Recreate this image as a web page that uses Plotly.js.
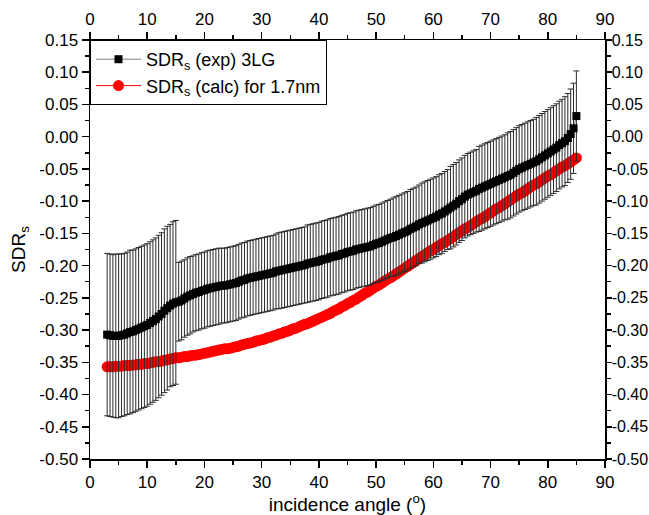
<!DOCTYPE html>
<html>
<head>
<meta charset="utf-8">
<script src="https://cdn.plot.ly/plotly-3.0.1.min.js"></script>
<style>html,body{margin:0;padding:0;background:#fff;}#chart{width:649px;height:515px;}</style>
</head>
<body>
<div id="chart"></div>
<script>
// incidence angle (deg)
const angle = [
  3.0,3.5,4.0,4.5,5.0,5.5,6.0,6.5,7.0,7.5,
  8.0,8.5,9.0,9.5,10.0,10.5,11.0,11.5,12.0,12.5,
  13.0,13.5,14.0,14.5,15.0,15.5,16.0,16.5,17.0,17.5,
  18.0,18.5,19.0,19.5,20.0,20.5,21.0,21.5,22.0,22.5,
  23.0,23.5,24.0,24.5,25.0,25.5,26.0,26.5,27.0,27.5,
  28.0,28.5,29.0,29.5,30.0,30.5,31.0,31.5,32.0,32.5,
  33.0,33.5,34.0,34.5,35.0,35.5,36.0,36.5,37.0,37.5,
  38.0,38.5,39.0,39.5,40.0,40.5,41.0,41.5,42.0,42.5,
  43.0,43.5,44.0,44.5,45.0,45.5,46.0,46.5,47.0,47.5,
  48.0,48.5,49.0,49.5,50.0,50.5,51.0,51.5,52.0,52.5,
  53.0,53.5,54.0,54.5,55.0,55.5,56.0,56.5,57.0,57.5,
  58.0,58.5,59.0,59.5,60.0,60.5,61.0,61.5,62.0,62.5,
  63.0,63.5,64.0,64.5,65.0,65.5,66.0,66.5,67.0,67.5,
  68.0,68.5,69.0,69.5,70.0,70.5,71.0,71.5,72.0,72.5,
  73.0,73.5,74.0,74.5,75.0,75.5,76.0,76.5,77.0,77.5,
  78.0,78.5,79.0,79.5,80.0,80.5,81.0,81.5,82.0,82.5,
  83.0,83.5,84.0,84.5,85.0
];
// SDR_s (exp) 3LG
const sdrExp = [
  -0.307,-0.308,-0.309,-0.309,-0.309,-0.308,-0.307,-0.305,-0.303,-0.302,
  -0.300,-0.298,-0.296,-0.294,-0.292,-0.289,-0.286,-0.283,-0.279,-0.275,
  -0.270,-0.266,-0.262,-0.259,-0.257,-0.256,-0.254,-0.251,-0.248,-0.246,
  -0.244,-0.242,-0.241,-0.239,-0.238,-0.236,-0.235,-0.234,-0.233,-0.232,
  -0.231,-0.231,-0.230,-0.229,-0.228,-0.227,-0.225,-0.223,-0.222,-0.220,
  -0.219,-0.218,-0.217,-0.216,-0.215,-0.214,-0.213,-0.212,-0.211,-0.209,
  -0.208,-0.207,-0.206,-0.205,-0.204,-0.203,-0.202,-0.201,-0.200,-0.199,
  -0.197,-0.196,-0.195,-0.194,-0.193,-0.191,-0.190,-0.189,-0.187,-0.186,
  -0.185,-0.184,-0.182,-0.181,-0.179,-0.178,-0.177,-0.175,-0.174,-0.173,
  -0.172,-0.171,-0.170,-0.168,-0.166,-0.165,-0.163,-0.161,-0.159,-0.157,
  -0.156,-0.154,-0.152,-0.150,-0.148,-0.146,-0.143,-0.141,-0.139,-0.136,
  -0.134,-0.132,-0.130,-0.128,-0.126,-0.124,-0.121,-0.119,-0.116,-0.113,
  -0.110,-0.107,-0.104,-0.100,-0.097,-0.093,-0.090,-0.088,-0.086,-0.084,
  -0.081,-0.079,-0.077,-0.075,-0.073,-0.071,-0.069,-0.067,-0.065,-0.063,
  -0.061,-0.059,-0.056,-0.053,-0.050,-0.048,-0.046,-0.044,-0.042,-0.040,
  -0.038,-0.035,-0.032,-0.029,-0.026,-0.023,-0.020,-0.017,-0.013,-0.010,
  -0.007,-0.002,0.004,0.013,0.032
];
// error (half-width) of SDR_s (exp)
const sdrExpErr = [
  0.126,0.126,0.126,0.127,0.127,0.126,0.126,0.126,0.127,0.126,
  0.126,0.126,0.126,0.126,0.126,0.126,0.126,0.126,0.126,0.126,
  0.127,0.127,0.126,0.127,0.127,0.061,0.061,0.060,0.060,0.060,
  0.059,0.059,0.059,0.059,0.059,0.059,0.059,0.059,0.059,0.059,
  0.058,0.058,0.058,0.058,0.058,0.058,0.058,0.058,0.058,0.058,
  0.058,0.058,0.058,0.058,0.058,0.058,0.058,0.058,0.058,0.058,
  0.059,0.059,0.059,0.059,0.059,0.059,0.059,0.059,0.059,0.059,
  0.060,0.060,0.060,0.060,0.060,0.060,0.060,0.060,0.060,0.060,
  0.060,0.060,0.060,0.060,0.060,0.060,0.060,0.060,0.060,0.060,
  0.060,0.060,0.060,0.060,0.060,0.060,0.060,0.060,0.060,0.060,
  0.061,0.061,0.061,0.061,0.061,0.061,0.061,0.061,0.061,0.061,
  0.062,0.062,0.062,0.062,0.062,0.062,0.062,0.062,0.062,0.062,
  0.064,0.064,0.064,0.064,0.064,0.064,0.064,0.064,0.064,0.064,
  0.066,0.066,0.066,0.066,0.066,0.066,0.066,0.066,0.066,0.066,
  0.067,0.067,0.067,0.067,0.067,0.067,0.067,0.067,0.067,0.067,
  0.068,0.068,0.068,0.068,0.068,0.068,0.068,0.068,0.068,0.068,
  0.069,0.069,0.070,0.070,0.070
];
// SDR_s (calc) for 1.7nm
const sdrCalc = [
  -0.357,-0.357,-0.357,-0.356,-0.356,-0.356,-0.355,-0.355,-0.355,-0.354,
  -0.354,-0.353,-0.353,-0.352,-0.352,-0.351,-0.350,-0.349,-0.349,-0.348,
  -0.347,-0.346,-0.345,-0.344,-0.343,-0.343,-0.342,-0.341,-0.341,-0.340,
  -0.339,-0.339,-0.338,-0.337,-0.336,-0.335,-0.334,-0.333,-0.332,-0.331,
  -0.330,-0.329,-0.329,-0.328,-0.327,-0.326,-0.325,-0.323,-0.322,-0.321,
  -0.320,-0.319,-0.317,-0.316,-0.315,-0.314,-0.312,-0.311,-0.309,-0.308,
  -0.306,-0.305,-0.303,-0.302,-0.300,-0.298,-0.297,-0.295,-0.293,-0.291,
  -0.290,-0.288,-0.286,-0.284,-0.282,-0.280,-0.278,-0.276,-0.274,-0.271,
  -0.269,-0.267,-0.264,-0.262,-0.259,-0.257,-0.254,-0.252,-0.249,-0.246,
  -0.243,-0.241,-0.238,-0.235,-0.232,-0.230,-0.227,-0.224,-0.221,-0.219,
  -0.216,-0.213,-0.210,-0.207,-0.204,-0.201,-0.198,-0.195,-0.192,-0.189,
  -0.186,-0.183,-0.180,-0.177,-0.175,-0.172,-0.169,-0.166,-0.164,-0.161,
  -0.158,-0.155,-0.152,-0.149,-0.146,-0.143,-0.141,-0.138,-0.135,-0.132,
  -0.129,-0.127,-0.124,-0.121,-0.118,-0.115,-0.112,-0.110,-0.107,-0.104,
  -0.101,-0.098,-0.095,-0.092,-0.089,-0.087,-0.084,-0.081,-0.078,-0.075,
  -0.073,-0.070,-0.067,-0.064,-0.061,-0.059,-0.056,-0.053,-0.050,-0.047,
  -0.045,-0.042,-0.039,-0.036,-0.033
];
const seriesNames = ['SDR<sub>s</sub> (exp) 3LG', 'SDR<sub>s</sub> (calc) for 1.7nm'];
const xTitle = 'incidence angle (<sup>o</sup>)';
const yTitle = 'SDR<sub>s</sub>';
const yTickVals = [0.15,0.10,0.05,0.00,-0.05,-0.10,-0.15,-0.20,-0.25,-0.30,-0.35,-0.40,-0.45,-0.50];
const yTickText = ['0.15','0.10','0.05','0.00','-0.05','-0.10','-0.15','-0.20','-0.25','-0.30','-0.35','-0.40','-0.45','-0.50'];

const FONT = 'Liberation Sans, Arial, sans-serif';

const traces = [
  {
    x: angle, y: sdrCalc, name: seriesNames[1], legendrank: 2,
    xaxis: 'x', yaxis: 'y',
    type: 'scatter', mode: 'lines+markers',
    line: {color: '#ff0000', width: 1},
    marker: {symbol: 'circle', size: 11, color: '#ff0000', line: {width: 0}}
  },
  {
    x: angle, y: sdrExp, name: seriesNames[0], legendrank: 1,
    xaxis: 'x2', yaxis: 'y2',
    type: 'scatter', mode: 'lines+markers',
    line: {color: '#808080', width: 1},
    marker: {symbol: 'square', size: 8, color: '#000000', line: {width: 0}},
    error_y: {type: 'data', array: sdrExpErr, visible: true, color: '#2a2a2a', thickness: 1, width: 3}
  }
];

const axCommon = {
  showline: true, linecolor: '#000', linewidth: 1.5, mirror: false,
  showgrid: false, zeroline: false,
  ticks: 'outside', ticklen: 7, tickwidth: 1.5, tickcolor: '#000',
  tickfont: {family: FONT, size: 17, color: '#000'}
};
const xMinor = {tickmode: 'linear', dtick: 5, tick0: 0, ticks: 'outside', ticklen: 4, tickwidth: 1.5, tickcolor: '#000', showgrid: false};
const yMinor = {tickmode: 'linear', dtick: 0.025, tick0: 0, ticks: 'outside', ticklen: 4, tickwidth: 1.5, tickcolor: '#000', showgrid: false};

const layout = {
  width: 649, height: 515,
  margin: {l: 90, r: 44, t: 40, b: 56},
  paper_bgcolor: '#fff', plot_bgcolor: 'rgba(0,0,0,0)',
  font: {family: FONT, color: '#000'},
  showlegend: true,
  legend: {
    x: 0, y: 1, xanchor: 'left', yanchor: 'top',
    bgcolor: '#fff', bordercolor: '#000', borderwidth: 1,
    font: {family: FONT, size: 18, color: '#000'},
    itemwidth: 45, tracegroupgap: 0
  },
  xaxis: Object.assign({}, axCommon, {
    range: [0, 90], tick0: 0, dtick: 10, minor: xMinor,
    title: {text: xTitle, font: {family: FONT, size: 19, color: '#000'}, standoff: 6}
  }),
  xaxis2: Object.assign({}, axCommon, {
    range: [0, 90], tick0: 0, dtick: 10, overlaying: 'x', side: 'top', anchor: 'y2',
    minor: xMinor
  }),
  yaxis: Object.assign({}, axCommon, {
    range: [-0.5, 0.15], tickmode: 'array', tickvals: yTickVals, ticktext: yTickText, minor: yMinor,
    title: {text: yTitle, font: {family: FONT, size: 19, color: '#000'}, standoff: 8}
  }),
  yaxis2: Object.assign({}, axCommon, {
    range: [-0.5, 0.15], tickmode: 'array', tickvals: yTickVals, ticktext: yTickText,
    overlaying: 'y', side: 'right', anchor: 'x2', minor: yMinor,
    ticklen: 5, ticklabelstandoff: -3, tickfont: {family: FONT, size: 16, color: '#000'}
  })
};

Plotly.newPlot('chart', traces, layout, {staticPlot: true, displayModeBar: false});
</script>
</body>
</html>
